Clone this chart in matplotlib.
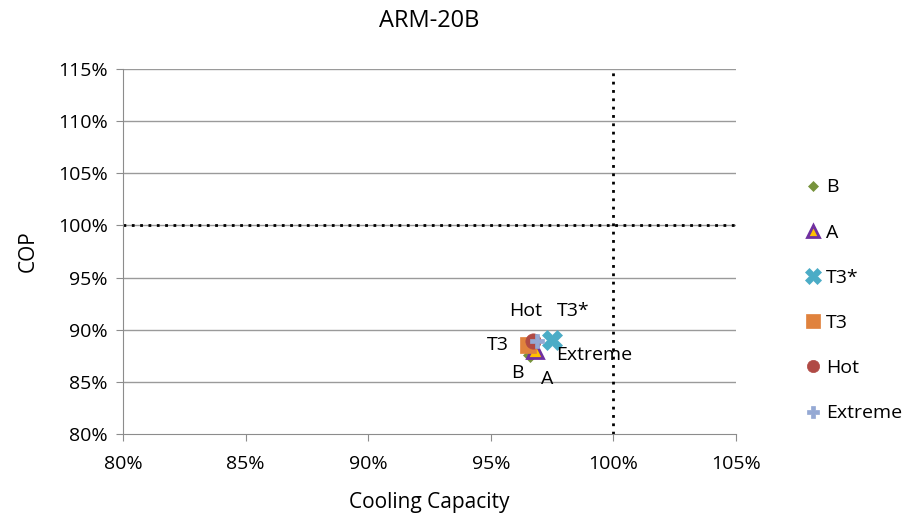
import matplotlib
matplotlib.use("Agg")
import matplotlib.pyplot as plt
from matplotlib.ticker import FuncFormatter

plt.rcParams['font.family'] = ['Open Sans', 'DejaVu Sans']

series = ["B", "A", "T3*", "T3", "Hot", "Extreme"]
cap = [96.6, 96.8, 97.5, 96.5, 96.7, 96.9]
cop = [87.6, 88.1, 89.0, 88.5, 88.9, 88.9]
markers = ["D", "^", "X", "s", "o", "P"]
colors = ["#77933C", "#FFC000", "#4BACC6", "#E0823D", "#B04A45", "#95A9D4"]
edges = ["#77933C", "#7030A0", "#4BACC6", "#E0823D", "#B04A45", "#95A9D4"]
sizes = [7, 11, 14, 12, 11, 10]
xticks = [80, 85, 90, 95, 100, 105]
yticks = [80, 85, 90, 95, 100, 105, 110, 115]
label_off = [(-9, -13), (9, -21), (15, 21), (-21.5, 0), (-5, 22), (41, -10)]

fig = plt.figure(figsize=(9.06, 5.18), dpi=100)
ax = fig.add_axes([0.1358, 0.1622, 0.6766, 0.7046])

for y in yticks[1:]:
    ax.axhline(y, color="#9A9A9A", lw=1, zorder=0)
ax.axvline(100, color="black", ls=(0, (1, 2)), lw=2, zorder=1)
ax.axhline(100, color="black", ls=(0, (1, 2)), lw=2, zorder=1)

handles = []
for s, x, y, m, c, e, ms, off in zip(series, cap, cop, markers, colors, edges, sizes, label_off):
    mew = 2 if s == "A" else 0.5
    h, = ax.plot([x], [y], ls="none", marker=m, color=c, mec=e, mew=mew, ms=ms, label=s, zorder=3)
    handles.append(h)
    ax.annotate(s, (x, y), xytext=off, textcoords="offset points", fontsize=14,
                ha="center", va="center")

ax.set_xlim(80, 105)
ax.set_ylim(80, 115)
ax.set_xticks(xticks)
ax.set_yticks(yticks)
fmt = FuncFormatter(lambda v, p: f"{v:.0f}%")
ax.xaxis.set_major_formatter(fmt)
ax.yaxis.set_major_formatter(fmt)
ax.tick_params(labelsize=14, length=5, color="#8C8C8C")
ax.tick_params(axis="x", pad=10)
ax.tick_params(axis="y", pad=6)
for sp in ["top", "right"]:
    ax.spines[sp].set_visible(False)
for sp in ["left", "bottom"]:
    ax.spines[sp].set_color("#8C8C8C")

ax.set_xlabel("Cooling Capacity", fontsize=15, labelpad=14)
ax.set_ylabel("COP", fontsize=15, labelpad=14)
ax.set_title("ARM-20B", fontsize=17, pad=30)

leg = fig.legend(handles=handles, loc="center left", bbox_to_anchor=(0.869, 0.42),
                 frameon=False, fontsize=14, labelspacing=1.4, handlelength=0.8,
                 handletextpad=0.3, markerscale=0.8)

fig.savefig("out.png", dpi=100)
